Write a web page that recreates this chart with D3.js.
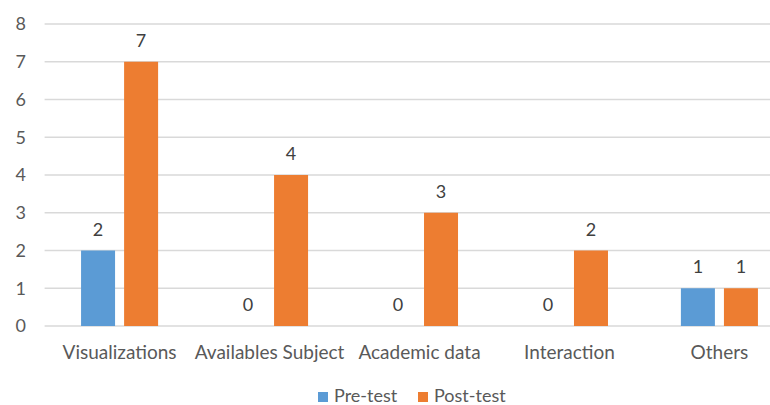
<!DOCTYPE html>
<html><head><meta charset="utf-8">
<script src="https://cdn.jsdelivr.net/npm/d3@7"></script>
<style>
html,body{margin:0;padding:0;background:#fff;}
svg{display:block;font-family:"Lato","Liberation Sans",sans-serif;}
</style></head>
<body>
<svg id="chart" width="770" height="405"></svg>
<script>
const categories = ["Visualizations","Availables Subject","Academic data","Interaction","Others"];
const seriesNames = ["Pre-test","Post-test"];
const preTest = [2,0,0,0,1];
const postTest = [7,4,3,2,1];
const yTicks = [0,1,2,3,4,5,6,7,8];
const colors = ["#5B9BD5","#ED7D31"];

const svg = d3.select("#chart");
const W = 770, H = 405;
const plotLeft = 44.6, plotRight = 794.4, plotTop = 24, plotBottom = 326;

const x0 = d3.scaleBand().domain(categories).range([plotLeft, plotRight]).padding(0);
const x1 = d3.scaleBand().domain(seriesNames).range([0, x0.bandwidth()]).paddingInner(0.21).paddingOuter(0.847);
const y = d3.scaleLinear().domain([0, 8]).range([plotBottom, plotTop]);

// gridlines
svg.append("g").selectAll("line").data(yTicks).join("line")
  .attr("x1", plotLeft).attr("x2", W)
  .attr("y1", d => y(d)).attr("y2", d => y(d))
  .attr("stroke", "#d9d9d9").attr("stroke-width", 1.5);

// y tick labels
const yAxis = d3.axisLeft(y).tickValues(yTicks).tickSize(0).tickPadding(0);
const ya = svg.append("g").attr("transform", `translate(26,0)`).call(yAxis);
ya.select(".domain").remove();
ya.selectAll("text").attr("fill", "#595959").style("font-size", "18px").style("font-family", "Lato, 'Liberation Sans', sans-serif");

// x labels
const xAxis = d3.axisBottom(x0).tickSize(0).tickPadding(0);
const xa = svg.append("g").attr("transform", `translate(0,${plotBottom})`).call(xAxis);
xa.select(".domain").remove();
xa.selectAll("text").attr("dy", null).attr("y", 33).attr("fill", "#595959")
  .style("font-size", "19px").style("font-family", "Lato, 'Liberation Sans', sans-serif");

const data = categories.map((c, i) => ({cat: c, vals: [
  {s: seriesNames[0], v: preTest[i], c: colors[0]},
  {s: seriesNames[1], v: postTest[i], c: colors[1]}
]}));

const groups = svg.append("g").selectAll("g").data(data).join("g")
  .attr("transform", d => `translate(${x0(d.cat)},0)`);

groups.selectAll("rect").data(d => d.vals).join("rect")
  .attr("x", d => x1(d.s)).attr("width", x1.bandwidth())
  .attr("y", d => y(d.v)).attr("height", d => y(0) - y(d.v))
  .attr("fill", d => d.c);

groups.selectAll("text").data(d => d.vals).join("text")
  .attr("x", d => x1(d.s) + x1.bandwidth() / 2)
  .attr("y", d => y(d.v) - 15)
  .attr("text-anchor", "middle")
  .attr("fill", "#404040").style("font-size", "18px")
  .text(d => d.v);

// legend
const legend = svg.append("g").attr("transform", "translate(318,0)");
const legItems = [{n: seriesNames[0], c: colors[0], x: 0}, {n: seriesNames[1], c: colors[1], x: 100}];
const lg = legend.selectAll("g").data(legItems).join("g").attr("transform", d => `translate(${d.x},0)`);
lg.append("rect").attr("x", 0).attr("y", 392).attr("width", 10).attr("height", 10).attr("fill", d => d.c);
lg.append("text").attr("x", 16).attr("y", 402).attr("fill", "#595959").style("font-size", "18px").text(d => d.n);
</script>
</body></html>
